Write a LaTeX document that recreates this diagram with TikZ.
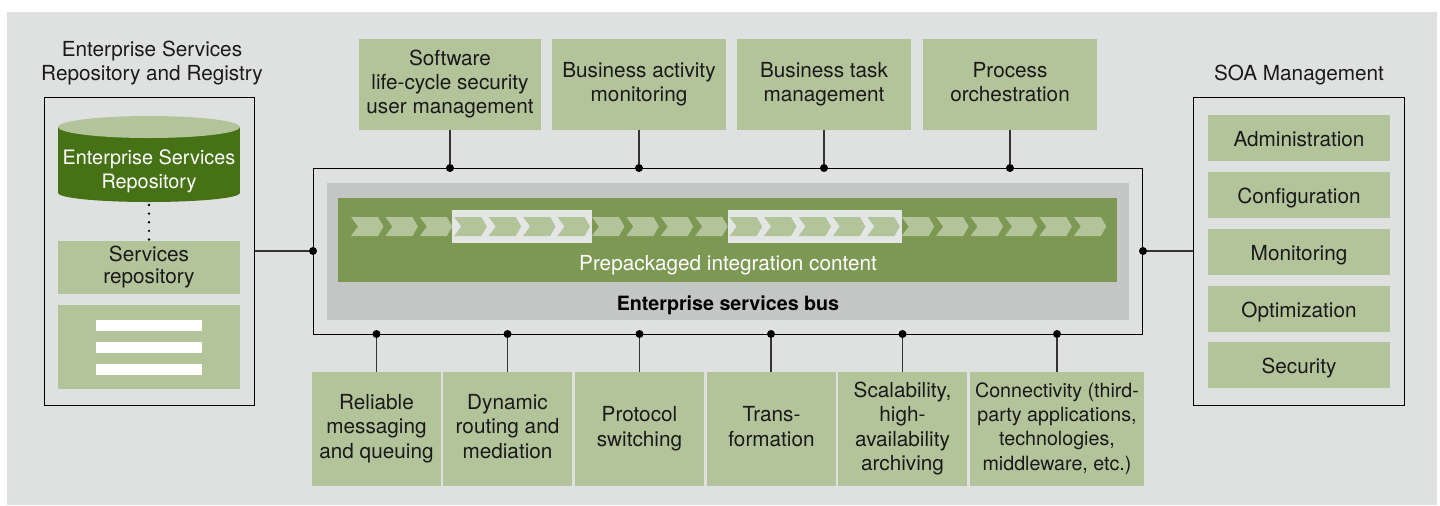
\documentclass[tikz,border=0pt]{standalone}
\usepackage{fontspec}
\setmainfont{TeX Gyre Heros}
\definecolor{panel_grey}{HTML}{DFE1E0}
\definecolor{bus_grey}{HTML}{C4C6C5}
\definecolor{leaf_light}{HTML}{B3C39A}
\definecolor{leaf_mid}{HTML}{7C9852}
\definecolor{leaf_dark}{HTML}{467215}
\definecolor{slot_grey}{HTML}{E4E6E5}
\definecolor{ink}{HTML}{1A1A1A}
\tikzset{
  x=0.02cm, y=-0.02cm,
  greenbox/.style={fill=leaf_light, text=ink, align=center, inner sep=0pt, outer sep=0pt, font=\fontsize{11.8pt}{13.8pt}\selectfont},
  linebox/.style={greenbox, minimum width=3.64cm, minimum height=0.92cm, execute at begin node={\rule{0pt}{13.2pt}}, execute at end node={\rule[-3pt]{0pt}{3pt}}},
  stackbox/.style={greenbox, execute at begin node={\vspace*{4.6pt}}, execute at end node={\rule[-3pt]{0pt}{3pt}}},
  framebox/.style={draw=black, line width=0.55pt, inner sep=0pt, outer sep=0pt},
  toplabel/.style={text=ink, align=center, inner sep=0pt, font=\fontsize{11.8pt}{13.8pt}\selectfont},
  joint/.style={circle, fill=black, inner sep=0pt, minimum size=0.16cm},
  wire/.style={draw=black!80, line width=0.6pt}
}
\begin{document}
\begin{tikzpicture}
\useasboundingbox (0,0) rectangle (1440,505);

% Draw the grey panel
\fill[panel_grey] (7,12) rectangle (1437,505);

% Draw the left frame with its contents
\node[framebox, minimum width=4.22cm, minimum height=6.18cm] (registry) at (149.5,251.5) {};
\node[toplabel] (registrylabel) at (152,63) {Enterprise Services\\Repository and Registry};
% Draw the drum from its body and its two ends
\fill[leaf_dark] (58,127) rectangle (240,193);
\fill[leaf_dark] (149,193) ellipse (91 and 9);
\fill[leaf_light] (149,127) ellipse (91 and 11);
\node[text=white, align=center, inner sep=0pt, outer sep=0pt, minimum width=3.64cm, minimum height=1.32cm, font=\fontsize{11.3pt}{13.8pt}\selectfont] (esr) at (149,171) {Enterprise Services\\Repository};
\node[stackbox, minimum width=3.64cm, minimum height=1.06cm, font=\fontsize{11.8pt}{12.6pt}\selectfont] (servicesrepo) at (149,267.5) {Services\\repository};
\node[greenbox, minimum width=3.64cm, minimum height=1.68cm] (servicelist) at (149,347) {};
\draw[black, line width=1.5pt, line cap=round, dash pattern=on 0pt off 4.9pt, shorten <=0.6pt] (esr.south) -- (servicesrepo.north);

% Draw the white bars of the list
\foreach \y in {325.5,347.5,369.5}
  \fill[white] (96,\y-5.5) rectangle (202,\y+5.5);

% Draw the right frame with its contents
\node[framebox, minimum width=4.22cm, minimum height=6.18cm] (soa) at (1298.5,251.5) {};
\node[toplabel] (soalabel) at (1299,75) {SOA Management};
\node[linebox] (admin) at (1299,138) {Administration};
\node[linebox] (config) at (1299,195) {Configuration};
\node[linebox] (monitor) at (1299,252) {Monitoring};
\node[linebox] (optim) at (1299,309) {Optimization};
\node[linebox] (secur) at (1299,365) {Security};

% Draw the bus frame, the grey band and the green band
\node[framebox, minimum width=16.6cm, minimum height=3.32cm] (busframe) at (728,251) {};
\fill[bus_grey] (327,183) rectangle (1129,320);
\fill[leaf_mid] (338,198) rectangle (1117,282);
\fill[slot_grey] (452,210) rectangle (592,243);
\fill[slot_grey] (728,210) rectangle (902,243);

% Draw the chevrons
\foreach \i in {0,...,21}
  \fill[leaf_light, shift={(351+34.42*\i,0)}] (0,217) -- (27,217) -- (32.5,226.5) -- (27,236) -- (0,236) -- (7,226.5) -- cycle;

\node[text=white, inner sep=0pt, font=\fontsize{11.8pt}{13.8pt}\selectfont] (content) at (728,265) {Prepackaged integration content};
\node[text=black, inner sep=0pt, font=\fontsize{11.2pt}{13pt}\selectfont\bfseries] (buslabel) at (728,305) {Enterprise services bus};

% Draw the boxes above the bus
\node[stackbox, minimum width=3.64cm, minimum height=1.82cm] (lifecycle) at (450,84.5) {Software\\life-cycle security\\user management};
\node[stackbox, minimum width=3.48cm, minimum height=1.82cm] (activity) at (639,84.5) {Business activity\\monitoring};
\node[stackbox, minimum width=3.48cm, minimum height=1.82cm] (task) at (824,84.5) {Business task\\management};
\node[stackbox, minimum width=3.48cm, minimum height=1.82cm] (process) at (1010,84.5) {Process\\orchestration};

% Draw the boxes below the bus
\node[stackbox, minimum width=2.58cm, minimum height=2.28cm] (reliable) at (376.5,429) {Reliable\\messaging\\and queuing};
\node[stackbox, minimum width=2.58cm, minimum height=2.28cm] (routing) at (507.5,429) {Dynamic\\routing and\\mediation};
\node[stackbox, minimum width=2.58cm, minimum height=2.28cm] (switching) at (639.5,429) {Protocol\\switching};
\node[stackbox, minimum width=2.58cm, minimum height=2.28cm] (transform) at (771.5,429) {Trans-\\formation};
\node[stackbox, minimum width=2.58cm, minimum height=2.28cm] (scaling) at (902.5,429) {Scalability,\\high-\\availability\\archiving};
\node[stackbox, minimum width=3.48cm, minimum height=2.28cm, font=\fontsize{11.2pt}{13.8pt}\selectfont] (connect) at (1057,429) {Connectivity (third-\\party applications,\\technologies,\\middleware, etc.)};

% Draw the joints on the bus frame
\node[joint] (jleft) at (313,251) {};
\node[joint] (jright) at (1143,251) {};
\node[joint] (jt1) at (450,168) {};
\node[joint] (jt2) at (639,168) {};
\node[joint] (jt3) at (824,168) {};
\node[joint] (jt4) at (1010,168) {};
\node[joint] (jb1) at (376.5,334) {};
\node[joint] (jb2) at (507.5,334) {};
\node[joint] (jb3) at (639.5,334) {};
\node[joint] (jb4) at (771,334) {};
\node[joint] (jb5) at (902.5,334) {};
\node[joint] (jb6) at (1057,334) {};

% Draw the connectors
\draw[wire] (registry.east |- jleft) -- (jleft);
\draw[wire] (soa.west |- jright) -- (jright);
\draw[wire] (lifecycle) -- (jt1);
\draw[wire] (activity) -- (jt2);
\draw[wire] (task) -- (jt3);
\draw[wire] (process) -- (jt4);
\draw[wire] (jb1) -- (reliable);
\draw[wire] (jb2) -- (routing);
\draw[wire] (jb3) -- (switching);
\draw[wire] (jb4) -- (jb4 |- transform.north);
\draw[wire] (jb5) -- (scaling);
\draw[wire] (jb6) -- (connect);

\end{tikzpicture}
\end{document}
